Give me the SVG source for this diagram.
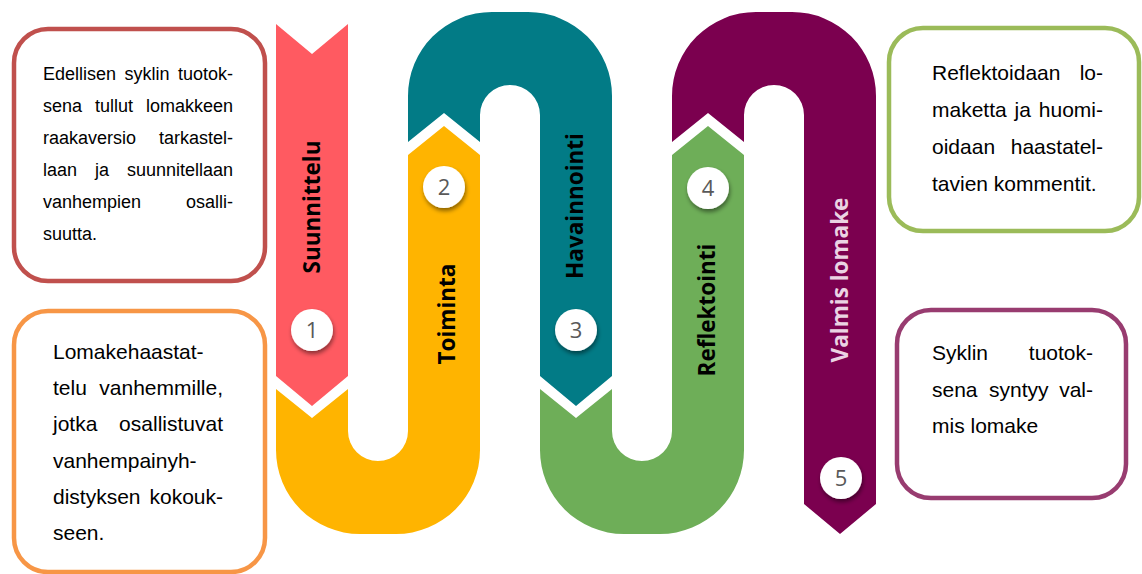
<svg xmlns="http://www.w3.org/2000/svg" width="1142" height="574" viewBox="0 0 1142 574">
<defs>
<style>
.box{fill:#fff;stroke-width:4.5}
.bt{font-family:"Liberation Sans",Arial,sans-serif;fill:#000}
.b1{font-size:18px}
.b2{font-size:21px}
.lbl{font-family:"Open Sans","DejaVu Sans",sans-serif;font-weight:bold;font-size:22.5px;text-anchor:middle}
.num{font-family:"Open Sans","DejaVu Sans",sans-serif;font-size:22px;fill:#595959;text-anchor:middle}
.end{text-anchor:end}
</style>
<filter id="sh" x="-50%" y="-50%" width="200%" height="200%">
<feDropShadow dx="1" dy="3" stdDeviation="2" flood-color="#000" flood-opacity="0.45"/>
</filter>
</defs>
<rect width="1142" height="574" fill="#fff"/>

<g id="band1">
<path d="M276,24 L312,54 L348,24 L348,376 L312,406 L276,376 Z" fill="#FF5A61"/>
<text class="lbl" transform="translate(320,207) rotate(-90)" fill="#000">Suunnittelu</text>
<circle cx="312" cy="330" r="21" fill="#fff" filter="url(#sh)"/>
<text class="num" x="312" y="338">1</text>
</g>

<g id="band2">
<path d="M276,389 L312,418 L348,389 L348,431 A30,30 0 0 0 408,431 L408,155 L444,126 L480,155 L480,450 A84,84 0 0 1 396,534 L360,534 A84,84 0 0 1 276,450 Z" fill="#FFB400"/>
<text class="lbl" transform="translate(455,314) rotate(-90)" fill="#000">Toiminta</text>
<circle cx="444" cy="187" r="21" fill="#fff" filter="url(#sh)"/>
<text class="num" x="444" y="195">2</text>
</g>

<g id="band3">
<path d="M408,142 L408,96 A84,84 0 0 1 492,12 L528,12 A84,84 0 0 1 612,96 L612,376 L576,406 L540,376 L540,115 A30,30 0 0 0 480,115 L480,142 L444,113 Z" fill="#027B86"/>
<text class="lbl" transform="translate(583,206) rotate(-90)" fill="#000">Havainnointi</text>
<circle cx="576" cy="330" r="21" fill="#fff" filter="url(#sh)"/>
<text class="num" x="576" y="338">3</text>
</g>

<g id="band4">
<path d="M540,389 L576,418 L612,389 L612,431 A30,30 0 0 0 672,431 L672,155 L708,126 L744,155 L744,450 A84,84 0 0 1 660,534 L624,534 A84,84 0 0 1 540,450 Z" fill="#6EAE58"/>
<text class="lbl" transform="translate(715,310) rotate(-90)" fill="#000">Reflektointi</text>
<circle cx="708" cy="188" r="21" fill="#fff" filter="url(#sh)"/>
<text class="num" x="708" y="196">4</text>
</g>

<g id="band5">
<path d="M672,142 L672,96 A84,84 0 0 1 756,12 L792,12 A84,84 0 0 1 876,96 L876,504 L840,534 L804,504 L804,115 A30,30 0 0 0 744,115 L744,142 L708,113 Z" fill="#7B004F"/>
<text class="lbl" transform="translate(848,280) rotate(-90)" fill="#EBD3E3">Valmis lomake</text>
<circle cx="841" cy="478" r="21" fill="#fff" filter="url(#sh)"/>
<text class="num" x="841" y="486">5</text>
</g>

<g id="box1">
<rect class="box" x="14" y="29" width="251" height="252" rx="34" stroke="#C0504D"/>
<g class="bt b1">
<text x="43" y="80">Edellisen</text><text x="124.5" y="80">syklin</text><text class="end" x="233" y="80">tuotok-</text>
<text x="43" y="112">sena</text><text x="95" y="112">tullut</text><text class="end" x="233" y="112">lomakkeen</text>
<text x="43" y="144">raakaversio</text><text class="end" x="233" y="144">tarkastel-</text>
<text x="43" y="176">laan</text><text x="95" y="176">ja</text><text class="end" x="233" y="176">suunnitellaan</text>
<text x="43" y="208">vanhempien</text><text class="end" x="233" y="208">osalli-</text>
<text x="43" y="240">suutta.</text>
</g>
</g>

<g id="box2">
<rect class="box" x="14" y="311" width="251" height="261" rx="34" stroke="#F79646"/>
<g class="bt b2">
<text x="53" y="359">Lomakehaastat-</text>
<text x="53" y="395">telu</text><text class="end" x="223" y="395">vanhemmille,</text>
<text x="53" y="431">jotka</text><text class="end" x="223" y="431">osallistuvat</text>
<text x="53" y="468">vanhempainyh-</text>
<text x="53" y="504">distyksen</text><text class="end" x="223" y="504">kokouk-</text>
<text x="53" y="540">seen.</text>
</g>
</g>

<g id="box3">
<rect class="box" x="889" y="28" width="250" height="203" rx="34" stroke="#9BBB59"/>
<g class="bt b2">
<text x="932" y="80">Reflektoidaan</text><text class="end" x="1103" y="80">lo-</text>
<text x="932" y="117">maketta</text><text x="1014.5" y="117">ja</text><text class="end" x="1103" y="117">huomi-</text>
<text x="932" y="154">oidaan</text><text class="end" x="1103" y="154">haastatel-</text>
<text x="932" y="191">tavien kommentit.</text>
</g>
</g>

<g id="box4">
<rect class="box" x="897" y="310" width="229" height="188" rx="34" stroke="#983C70"/>
<g class="bt b2">
<text x="932" y="360">Syklin</text><text class="end" x="1093" y="360">tuotok-</text>
<text x="932" y="397">sena</text><text x="989" y="397">syntyy</text><text class="end" x="1093" y="397">val-</text>
<text x="932" y="433">mis lomake</text>
</g>
</g>

<g id="connectors"></g>
</svg>
